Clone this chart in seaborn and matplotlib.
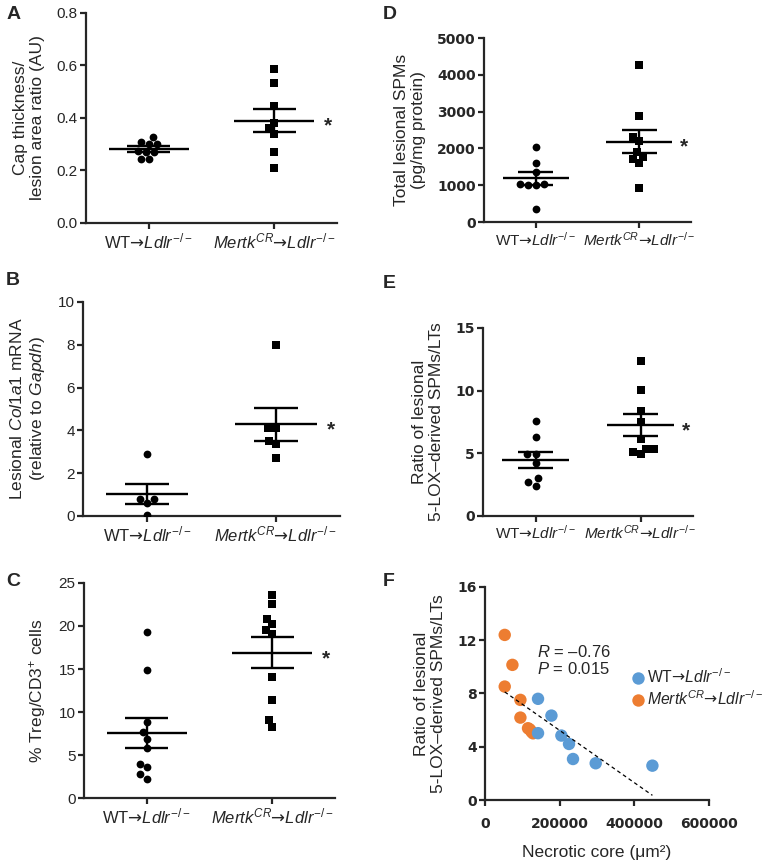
import numpy as np
import pandas as pd
import matplotlib
matplotlib.use("Agg")
import matplotlib.pyplot as plt
import seaborn as sns

sns.set_theme(style="ticks")
plt.rcParams["font.family"] = ["Liberation Sans", "DejaVu Sans"]
plt.rcParams["mathtext.fontset"] = "custom"
plt.rcParams["mathtext.rm"] = "Liberation Sans"
plt.rcParams["mathtext.it"] = "Liberation Sans:italic"
plt.rcParams["mathtext.bf"] = "Liberation Sans:bold"
plt.rcParams["mathtext.sf"] = "DejaVu Sans"

WT = "WT"
MERTK = "MertkCR"
GROUPS = [WT, MERTK]
GROUP_LABELS = [r"$\mathrm{WT}\mathsf{→}\mathit{Ldlr}^{-/-}$",
                r"$\mathit{Mertk}^{\mathit{CR}}\mathsf{→}\mathit{Ldlr}^{-/-}$"]

# A - cap thickness / lesion area ratio
A_WT = [0.326, 0.30, 0.30, 0.31, 0.27, 0.275, 0.27, 0.242, 0.242]
A_MERTK = [0.586, 0.532, 0.446, 0.38, 0.36, 0.34, 0.27, 0.208]

# B - Col1a1 mRNA
B_WT = [2.88, 0.81, 0.81, 0.62, 0.03]
B_MERTK = [8.0, 4.1, 4.12, 3.5, 3.36, 2.69]

# C - % Treg/CD3+
C_WT = [19.26, 14.88, 8.8, 7.64, 6.86, 5.81, 4.0, 3.57, 2.8, 2.25]
C_MERTK = [23.64, 22.6, 20.85, 20.2, 19.57, 19.07, 14.03, 11.43, 9.07, 8.26]

# D - total lesional SPMs
D_WT = [2031, 1616, 1372, 1047, 1002, 1002, 1047, 352]
D_MERTK = [4263, 2889, 2320, 2211, 1913, 1707, 1778, 1599, 938]

# E - ratio SPMs/LTs
E_WT = [7.58, 6.3, 4.91, 4.91, 4.19, 2.99, 2.67, 2.4]
E_MERTK = [12.39, 10.01, 8.41, 7.53, 6.14, 5.32, 4.92, 5.12, 5.32]

# F - ratio vs necrotic core
F_WT_X = [142000, 177900, 142000, 204600, 225000, 235700, 296500, 448400]
F_WT_Y = [7.6, 6.34, 5.02, 4.84, 4.21, 3.08, 2.76, 2.58]
F_MERTK_X = [52800, 73400, 52800, 94800, 94800, 115200, 124300, 128600, 120000]
F_MERTK_Y = [12.4, 10.15, 8.52, 7.52, 6.19, 5.39, 5.14, 5.01, 5.3]

BLUE = "#5B9BD5"
ORANGE = "#ED7D31"


def style_axes(ax, bold_ticks=False):
    sns.despine(ax=ax)
    for side in ["left", "bottom"]:
        ax.spines[side].set_linewidth(1.6)
    ax.tick_params(axis="both", direction="out", length=4, width=1.6, pad=2)
    for lbl in ax.get_yticklabels():
        if bold_ticks:
            lbl.set_family("DejaVu Sans")
            lbl.set_fontweight("bold")
            lbl.set_fontsize(10)
        else:
            lbl.set_fontsize(11)


def dot_panel(ax, wt, mertk, ylim, yticks, ylabel, fmt, bold_ticks=False, xfs=12):
    df = pd.DataFrame({
        "group": [WT] * len(wt) + [MERTK] * len(mertk),
        "value": list(wt) + list(mertk),
    })
    sns.swarmplot(data=df[df["group"] == WT], x="group", y="value", order=GROUPS,
                  marker="o", color="black", size=5.6, linewidth=0, ax=ax)
    sns.swarmplot(data=df[df["group"] == MERTK], x="group", y="value", order=GROUPS,
                  marker="s", color="black", size=5.4, linewidth=0, ax=ax)

    for i, vals in enumerate([wt, mertk]):
        vals = np.asarray(vals, dtype=float)
        m = vals.mean()
        se = vals.std(ddof=1) / np.sqrt(len(vals))
        ax.hlines(m, i - 0.32, i + 0.32, color="black", lw=1.7, zorder=3)
        ax.hlines([m - se, m + se], i - 0.17, i + 0.17, color="black", lw=1.7, zorder=3)
        ax.vlines(i, m - se, m + se, color="black", lw=1.7, zorder=3)
        if i == 1:
            ax.annotate("*", xy=(i + 0.43, m), xytext=(0, -4), textcoords="offset points",
                        ha="center", va="center", fontsize=15, fontweight="bold")

    ax.set_xlim(-0.5, 1.5)
    ax.set_ylim(*ylim)
    ax.set_yticks(yticks)
    ax.set_yticklabels([fmt.format(t) for t in yticks])
    ax.set_xticks([0, 1])
    ax.set_xticklabels(GROUP_LABELS, fontsize=xfs)
    ax.set_xlabel("")
    ax.set_ylabel(ylabel, fontsize=12.5, labelpad=8)
    style_axes(ax, bold_ticks)


fig = plt.figure(figsize=(7.65, 8.66), dpi=100)

axA = fig.add_axes([0.1124, 0.7425, 0.3281, 0.2425])
axB = fig.add_axes([0.1085, 0.4042, 0.3359, 0.2471])
axC = fig.add_axes([0.1098, 0.0785, 0.3281, 0.2483])
axD = fig.add_axes([0.6327, 0.7436, 0.2706, 0.2125])
axE = fig.add_axes([0.6314, 0.4042, 0.2745, 0.2171])
axF = fig.add_axes([0.6340, 0.0762, 0.2928, 0.2460])

dot_panel(axA, A_WT, A_MERTK, (0, 0.8), [0, 0.2, 0.4, 0.6, 0.8],
          "Cap thickness/\nlesion area ratio (AU)", "{:.1f}")
dot_panel(axB, B_WT, B_MERTK, (0, 10), [0, 2, 4, 6, 8, 10],
          "Lesional $\\mathit{Col1a1}$ mRNA\n(relative to $\\mathit{Gapdh}$)", "{:g}")
dot_panel(axC, C_WT, C_MERTK, (0, 25), [0, 5, 10, 15, 20, 25],
          "% Treg/CD3$^{+}$ cells", "{:g}")
dot_panel(axD, D_WT, D_MERTK, (0, 5000), [0, 1000, 2000, 3000, 4000, 5000],
          "Total lesional SPMs\n(pg/mg protein)", "{:g}", bold_ticks=True, xfs=11)
dot_panel(axE, E_WT, E_MERTK, (0, 15), [0, 5, 10, 15],
          "Ratio of lesional\n5-LOX–derived SPMs/LTs", "{:g}", bold_ticks=True, xfs=11)

# F - scatter with regression
dfF = pd.DataFrame({
    "x": F_MERTK_X + F_WT_X,
    "y": F_MERTK_Y + F_WT_Y,
    "group": [GROUP_LABELS[1]] * len(F_MERTK_X) + [GROUP_LABELS[0]] * len(F_WT_X),
})
sns.regplot(data=dfF, x="x", y="y", ci=None, scatter=False, ax=axF,
            line_kws={"color": "black", "lw": 0.9, "ls": (0, (3, 2.5))})
sns.scatterplot(data=dfF, x="x", y="y", hue="group", hue_order=GROUP_LABELS,
                palette=[BLUE, ORANGE], s=80, linewidth=0, ax=axF)
axF.set_xlim(0, 600000)
axF.set_ylim(0, 16)
axF.set_xticks([0, 200000, 400000, 600000])
axF.set_xticklabels(["0", "200000", "400000", "600000"])
axF.set_yticks([0, 4, 8, 12, 16])
axF.set_xlabel("Necrotic core (μm²)", fontsize=12.5, labelpad=10)
axF.set_ylabel("Ratio of lesional\n5-LOX–derived SPMs/LTs", fontsize=12.5, labelpad=8)
style_axes(axF, bold_ticks=True)
for lbl in axF.get_xticklabels():
    lbl.set_family("DejaVu Sans")
    lbl.set_fontweight("bold")
    lbl.set_fontsize(10)
axF.tick_params(axis="x", pad=8)
axF.text(0.23, 0.655, "$R$ = –0.76\n$P$ = 0.015", transform=axF.transAxes,
         fontsize=12, va="center", ha="left", linespacing=1.1)
sns.move_legend(axF, "center left", bbox_to_anchor=(0.654, 0.526), frameon=False,
                title=None, fontsize=11.3, handlelength=0.8, handletextpad=0.2,
                labelspacing=0.2, borderaxespad=0, borderpad=0)

# panel letters
for letter, (x, y) in {"A": (0.008, 0.993), "B": (0.008, 0.686), "C": (0.008, 0.338),
                       "D": (0.500, 0.993), "E": (0.500, 0.682), "F": (0.500, 0.338)}.items():
    fig.text(x, y, letter, fontsize=14, fontweight="bold", va="top", ha="left")

fig.savefig("out.png", dpi=100)
